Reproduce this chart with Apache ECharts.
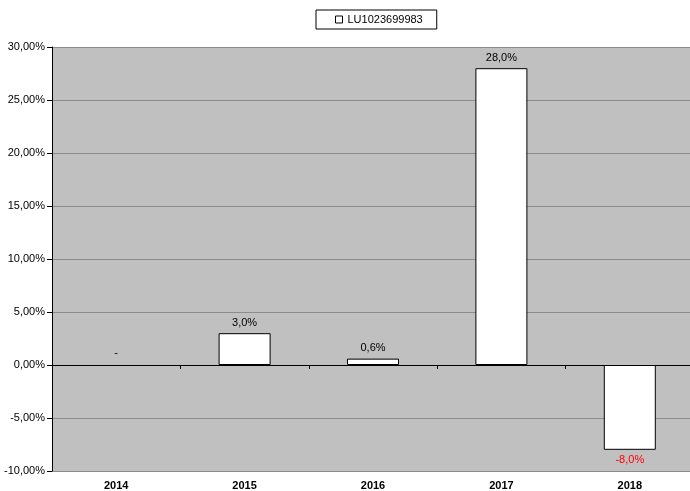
<!DOCTYPE html>
<html><head><meta charset="utf-8">
<script src="https://cdn.jsdelivr.net/npm/echarts@6/dist/echarts.min.js"></script>
<style>html,body{margin:0;padding:0;background:#fff;overflow:hidden}#c{width:695px;height:491px}</style>
</head><body><div id="c"></div>
<script>
const categories = ['2014', '2015', '2016', '2017', '2018'];
const seriesName = 'LU1023699983';
const values = [0, 3.0, 0.6, 28.0, -8.0];

const fmt = v => v === 0 ? '-' : v.toFixed(1).replace('.', ',') + '%';
const font = 'Liberation Sans, Arial, sans-serif';

const chart = echarts.init(document.getElementById('c'));
chart.setOption({
  animation: false,
  backgroundColor: '#fff',
  legend: {
    data: [{name: seriesName, icon: 'rect', itemStyle: {color: '#fff', borderColor: '#000', borderWidth: 1}}],
    top: 10, left: 316,
    itemWidth: 7, itemHeight: 7, itemGap: 4,
    borderColor: '#000', borderWidth: 1, padding: [4, 14, 4, 19],
    backgroundColor: '#fff',
    textStyle: {fontFamily: font, fontSize: 11, color: '#000'}
  },
  grid: {left: 52, right: 1, top: 47, bottom: 19, show: true, backgroundColor: '#c0c0c0', borderWidth: 0},
  xAxis: [{
    type: 'category', data: categories, position: 'bottom',
    axisLine: {show: false, onZero: false},
    axisTick: {show: false},
    axisLabel: {fontFamily: font, fontSize: 11, fontWeight: 'bold', color: '#000', margin: 9}
  }, {
    type: 'category', data: categories, position: 'bottom',
    axisLine: {show: true, onZero: true, lineStyle: {color: '#000', width: 1}},
    axisTick: {show: true, inside: false, length: 4, lineStyle: {color: '#000'}},
    axisLabel: {show: false}
  }],
  yAxis: {
    type: 'value', min: -10, max: 30, interval: 5,
    axisLine: {show: true, lineStyle: {color: '#000'}},
    axisTick: {show: true, length: 5, lineStyle: {color: '#000'}},
    splitLine: {show: true, lineStyle: {color: '#8c8c8c', width: 1}},
    axisLabel: {fontFamily: font, fontSize: 11, color: '#000', margin: 7,
      formatter: v => v.toFixed(2).replace('.', ',') + '%'}
  },
  series: [{
    name: seriesName, type: 'bar', xAxisIndex: 0,
    barWidth: 52,
    itemStyle: {color: '#fff', borderColor: '#000', borderWidth: 1},
    data: values.map(v => ({
      value: v,
      itemStyle: v === 0 ? {color: 'rgba(0,0,0,0)', borderColor: 'rgba(0,0,0,0)', borderWidth: 0} : undefined,
      label: {
        show: true,
        position: v < 0 ? 'bottom' : 'top',
        distance: v === 0 ? 7 : 5,
        color: v < 0 ? '#ff0000' : '#000',
        fontFamily: font, fontSize: 11,
        formatter: p => fmt(p.value)
      }
    }))
  }]
});
</script></body></html>
